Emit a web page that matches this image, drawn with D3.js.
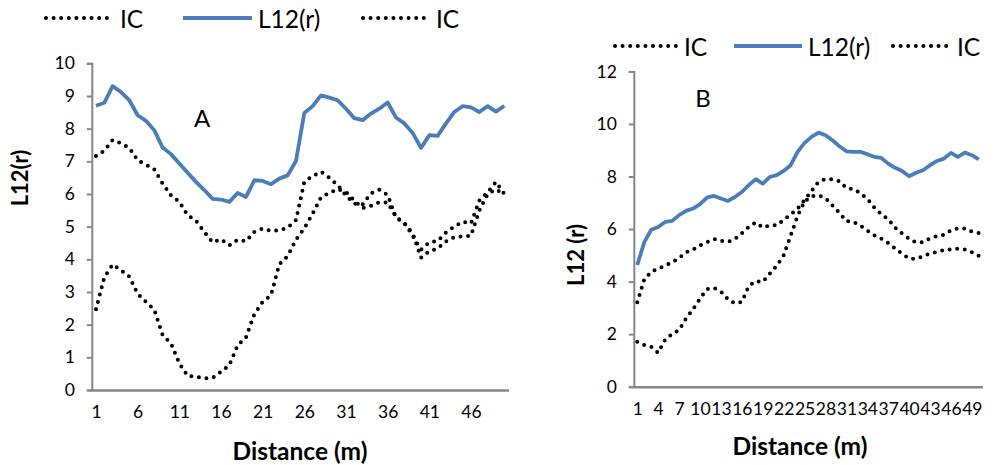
<!DOCTYPE html>
<html>
<head>
<meta charset="utf-8">
<script src="https://cdn.jsdelivr.net/npm/d3@7"></script>
<style>
  html, body { margin: 0; padding: 0; background: #fff; }
  svg { display: block; }
  text { font-family: Lato, "Liberation Sans", sans-serif; fill: #000; }
</style>
</head>
<body>
<svg id="chart" width="999" height="465"></svg>
<script>
// ---------- DATA ----------
const categories = [1,2,3,4,5,6,7,8,9,10,11,12,13,14,15,16,17,18,19,20,21,22,23,24,25,
  26,27,28,29,30,31,32,33,34,35,36,37,38,39,40,41,42,43,44,45,46,47,48,49,50];

const aL12 = [8.70,8.79,9.30,9.12,8.87,8.41,8.24,7.95,7.42,7.22,
  6.93,6.65,6.37,6.12,5.85,5.83,5.76,6.03,5.91,6.42,
  6.40,6.30,6.47,6.57,7.01,8.48,8.69,9.02,8.95,8.87,
  8.61,8.32,8.26,8.46,8.61,8.80,8.34,8.16,7.87,7.41,
  7.80,7.78,8.16,8.51,8.69,8.65,8.51,8.69,8.52,8.70];
const aICupper = [7.16,7.32,7.65,7.55,7.41,7.03,6.90,6.75,6.32,5.96,
  5.76,5.35,5.18,4.84,4.52,4.61,4.43,4.60,4.55,4.84,
  4.94,4.87,4.89,4.97,5.20,6.37,6.55,6.68,6.50,6.27,
  5.95,5.70,5.68,6.02,6.13,5.97,5.27,5.12,4.72,4.30,
  4.52,4.56,4.82,5.00,5.15,5.10,5.80,6.05,6.37,6.00];
const aIClower = [2.47,3.45,3.84,3.67,3.47,2.94,2.70,2.45,1.68,1.43,
  0.82,0.43,0.41,0.36,0.37,0.56,0.76,1.37,1.61,2.32,
  2.70,2.90,3.85,4.10,4.60,4.95,5.40,5.90,6.03,6.15,
  6.06,5.80,5.57,5.64,5.75,5.74,5.30,5.10,4.80,4.05,
  4.25,4.33,4.55,4.68,4.71,4.72,5.50,6.00,6.14,5.98];

const bL12 = [4.63,5.50,5.97,6.08,6.27,6.31,6.53,6.69,6.78,6.95,
  7.20,7.26,7.16,7.07,7.22,7.41,7.67,7.90,7.73,7.98,
  8.05,8.21,8.43,8.94,9.28,9.51,9.67,9.57,9.38,9.15,
  8.96,8.94,8.94,8.85,8.75,8.71,8.49,8.33,8.21,8.01,
  8.14,8.24,8.43,8.59,8.68,8.90,8.75,8.91,8.81,8.65];
const bICupper = [3.21,4.08,4.38,4.50,4.60,4.74,4.90,5.12,5.22,5.38,
  5.50,5.62,5.55,5.51,5.62,5.84,6.08,6.25,6.06,6.14,
  6.14,6.34,6.55,6.78,7.10,7.45,7.80,7.90,7.90,7.82,
  7.56,7.52,7.37,7.15,6.82,6.57,6.37,6.05,5.83,5.63,
  5.49,5.50,5.65,5.73,5.78,5.95,6.02,6.02,5.90,5.85];
const bIClower = [1.71,1.58,1.52,1.29,1.80,2.00,2.16,2.60,2.95,3.35,
  3.71,3.76,3.62,3.33,3.17,3.23,3.83,4.02,3.99,4.30,
  4.60,5.00,5.75,6.50,7.05,7.25,7.28,7.18,6.90,6.62,
  6.30,6.27,6.13,5.94,5.76,5.64,5.47,5.26,5.06,4.88,
  4.87,4.96,5.07,5.12,5.20,5.23,5.25,5.22,5.12,4.98];

const aYTicks = [0,1,2,3,4,5,6,7,8,9,10];
const bYTicks = [0,2,4,6,8,10,12];
const aXTicks = [1,6,11,16,21,26,31,36,41,46];
const bXTicks = [1,4,7,10,13,16,19,22,25,28,31,34,37,40,43,46,49];
const legendLabels = ["IC", "L12(r)", "IC"];

// ---------- STYLE ----------
const BLUE = "#4A7EBB";
const AXIS = "#868686";
const svg = d3.select("#chart");

function panel(cfg) {
  const g = svg.append("g");
  const x = d3.scalePoint().domain(categories).range([cfg.x0, cfg.x1]).padding(0.5);
  const y = d3.scaleLinear().domain([0, cfg.ymax]).range([cfg.yb, cfg.yt]);

  // y axis
  const ya = g.append("g").attr("transform", `translate(${cfg.x0},0)`)
    .call(d3.axisLeft(y).tickValues(cfg.yTicks).tickSize(5).tickPadding(12).tickFormat(d3.format("d")));
  ya.selectAll("path.domain").attr("stroke", AXIS).attr("stroke-width", 2);
  ya.selectAll(".tick line").attr("stroke", AXIS).attr("stroke-width", 2);
  ya.selectAll(".tick text").attr("font-size", 17.5).attr("font-family", "Lato, sans-serif").attr("fill", "#000");

  // x axis
  const xa = g.append("g").attr("transform", `translate(0,${cfg.yb})`)
    .call(d3.axisBottom(x).tickValues(cfg.xTicks).tickSize(0).tickPadding(cfg.xPad).tickSizeOuter(0));
  xa.selectAll("path.domain").attr("stroke", AXIS).attr("stroke-width", 2.5);
  xa.selectAll(".tick text").attr("font-size", 17.5).attr("font-family", "Lato, sans-serif").attr("fill", "#000");

  const line = d3.line().x((d, i) => x(categories[i])).y(d => y(d));

  [cfg.icU, cfg.icL].forEach(s => {
    g.append("path").datum(s).attr("d", line).attr("fill", "none")
      .attr("stroke", "#000").attr("stroke-width", 4)
      .attr("stroke-linecap", "round").attr("stroke-dasharray", "0 7.6");
  });
  g.append("path").datum(cfg.l12).attr("d", line).attr("fill", "none")
    .attr("stroke", BLUE).attr("stroke-width", 3.8).attr("stroke-linejoin", "round");

  // panel letter
  g.append("text").attr("x", cfg.letterX).attr("y", cfg.letterY).attr("text-anchor", "middle")
    .attr("dominant-baseline", "central").attr("font-size", 24).text(cfg.letter);

  // axis titles
  g.append("text").attr("x", cfg.xTitleX).attr("y", cfg.xTitleY).attr("text-anchor", "middle")
    .attr("dominant-baseline", "central").attr("font-size", 24.5).attr("font-weight", "bold")
    .text("Distance (m)");
  g.append("text").attr("transform", `translate(${cfg.yTitleX},${cfg.yTitleY}) rotate(-90)`)
    .attr("text-anchor", "middle").attr("dominant-baseline", "central")
    .attr("font-size", 22).attr("font-weight", "bold").text(cfg.yTitle);

  // legend
  const L = cfg.legend;
  const lg = g.append("g");
  const kinds = ["dot", "solid", "dot"];
  kinds.forEach((k, i) => {
    const item = L.items[i];
    const p = lg.append("line").attr("x1", item[0]).attr("x2", item[1]).attr("y1", L.y).attr("y2", L.y);
    if (k === "dot") {
      p.attr("stroke", "#000").attr("stroke-width", 4).attr("stroke-linecap", "round").attr("stroke-dasharray", "0 7.6");
    } else {
      p.attr("stroke", BLUE).attr("stroke-width", 3.8);
    }
    lg.append("text").attr("x", item[2]).attr("y", L.y).attr("dominant-baseline", "central")
      .attr("font-size", 24.5).text(legendLabels[i]);
  });
}

panel({
  x0: 91.8, x1: 508.5, yb: 390, yt: 63.3, ymax: 10,
  yTicks: aYTicks, xTicks: aXTicks, xPad: 16,
  l12: aL12, icU: aICupper, icL: aIClower,
  letter: "A", letterX: 202, letterY: 117,
  xTitleX: 300, xTitleY: 450, yTitleX: 19, yTitleY: 178, yTitle: "L12(r)",
  legend: { y: 18, items: [[46, 107, 120], [183, 252, 258], [363, 424, 436]] }
});

panel({
  x0: 633.8, x1: 982.3, yb: 386.7, yt: 71.4, ymax: 12,
  yTicks: bYTicks, xTicks: bXTicks, xPad: 16,
  l12: bL12, icU: bICupper, icL: bIClower,
  letter: "B", letterX: 703, letterY: 97,
  xTitleX: 800, xTitleY: 445, yTitleX: 575, yTitleY: 255, yTitle: "L12 (r)",
  legend: { y: 46, items: [[615, 676, 684], [734, 802, 808], [893, 950, 957]] }
});
</script>
</body>
</html>
